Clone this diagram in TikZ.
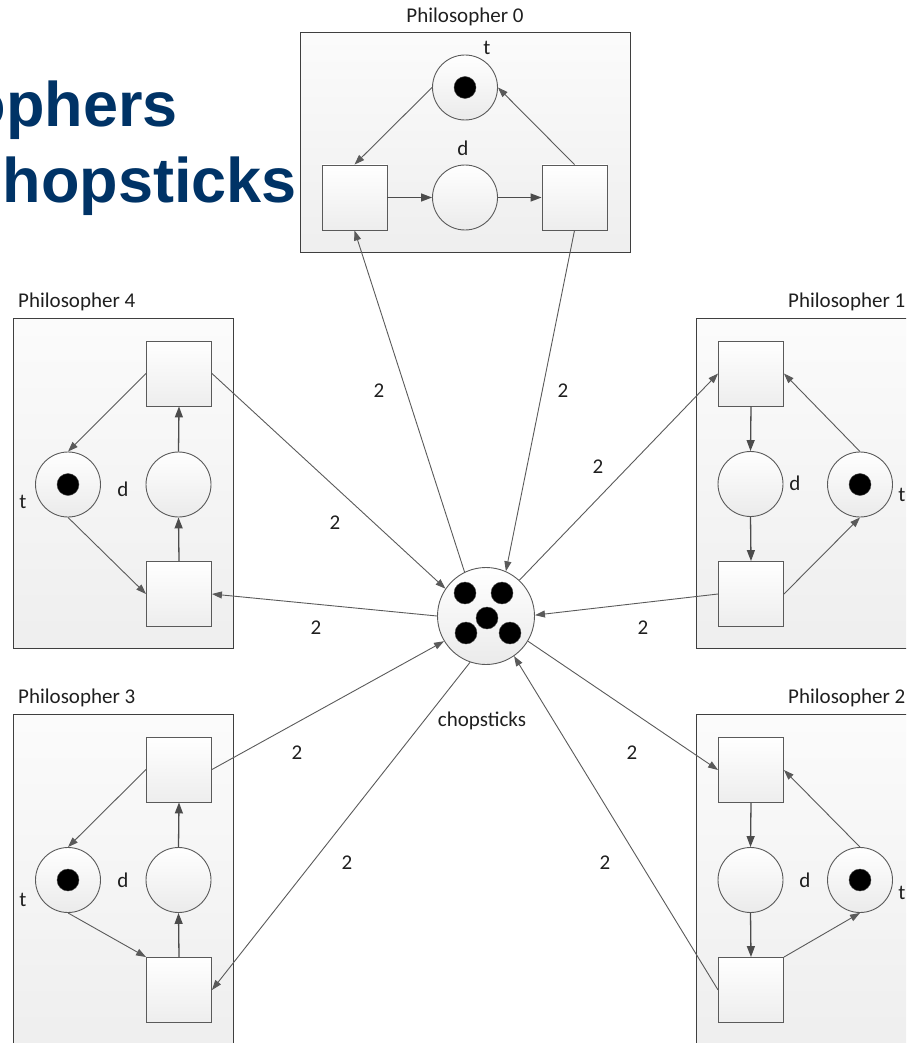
\documentclass[tikz,border=0pt]{standalone}
\usepackage{fontspec}
\newfontfamily\lab{Carlito}
\newfontfamily\ttl{Liberation Sans}
\usetikzlibrary{arrows.meta}
\definecolor{ln}{HTML}{5A5A5A}
\definecolor{bd}{HTML}{3F3F3F}
\definecolor{ttlc}{RGB}{0,51,102}
\begin{document}
\begin{tikzpicture}[x=1pt,y=-1pt,
  lbl/.style={font=\lab\fontsize{21}{25}\selectfont, inner sep=0pt, text=black!88},
  place/.style={circle, draw=ln, line width=0.9pt, minimum size=65pt, inner sep=0pt, top color=white, bottom color=gray!16},
  trans/.style={rectangle, draw=ln, line width=0.9pt, minimum size=65pt, inner sep=0pt, top color=white, bottom color=gray!14},
  pbox/.style={rectangle, draw=bd, line width=1pt, inner sep=0pt, top color=gray!3, bottom color=gray!13},
  arc/.style={draw=ln, line width=0.9pt, -{Triangle[length=10pt,width=7pt]}},
  sarc/.style={draw=black!70, line width=1.3pt, -{Triangle[length=11pt,width=8pt]}},
  tok/.style={circle, fill=black, draw=black!70, minimum size=22pt, inner sep=0pt},
  ttlstyle/.style={font=\ttl\bfseries\fontsize{63}{70}\selectfont, text=ttlc, inner sep=0pt, anchor=base east},
]
\useasboundingbox (0,0) rectangle (906,1043);
\clip (0,0) rectangle (906,1043);

% title fragments
\node[ttlstyle] (ttlA) at (178,127) {ophers};
\node[ttlstyle] (ttlB) at (297,202) {hopsticks};

% boxes
\node[pbox, minimum width=330pt, minimum height=219pt] (b0) at (465,142.5) {};
\node[pbox, minimum width=220pt, minimum height=330pt] (b4) at (123,483) {};
\node[pbox, minimum width=220pt, minimum height=330pt] (b1) at (806,483) {};
\node[pbox, minimum width=220pt, minimum height=330pt] (b3) at (123,879) {};
\node[pbox, minimum width=220pt, minimum height=330pt] (b2) at (806,879) {};

% box titles
\node[lbl] (n0) at (465,17) {Philosopher 0};
\node[lbl, anchor=west] (n4) at (18,302) {Philosopher 4};
\node[lbl, anchor=west] (n1) at (788,302) {Philosopher 1};
\node[lbl, anchor=west] (n3) at (18,698) {Philosopher 3};
\node[lbl, anchor=west] (n2) at (788,698) {Philosopher 2};

% Philosopher 0
\node[place] (t0) at (465,87.5) {};
\node[tok] (k0) at (465,87.5) {};
\node[place] (d0) at (465,197.5) {};
\node[trans] (a0) at (354.5,197.5) {};
\node[trans] (e0) at (574.5,197.5) {};
\node[lbl] (lt0) at (487,48) {t};
\node[lbl] (ld0) at (463,148) {d};
\draw[arc] (t0.west) -- (a0.north);
\draw[sarc] (a0.east) -- (d0.west);
\draw[sarc] (d0.east) -- (e0.west);
\draw[arc] (e0.north) -- (t0.east);

% Philosopher 4
\node[place] (t4) at (68,484.5) {};
\node[tok] (k4) at (68,484.5) {};
\node[place] (d4) at (178.5,484.5) {};
\node[trans] (e4) at (179,373.5) {};
\node[trans] (a4) at (179,594) {};
\node[lbl] (lt4) at (23,502) {t};
\node[lbl] (ld4) at (123,489) {d};
\draw[arc] (e4.west) -- (t4.north);
\draw[arc] (t4.south) -- (a4.west);
\draw[sarc] (a4.north) -- (d4.south);
\draw[sarc] (d4.north) -- (e4.south);

% Philosopher 3
\node[place] (t3) at (68,880) {};
\node[tok] (k3) at (68,880) {};
\node[place] (d3) at (178.5,880) {};
\node[trans] (e3) at (179,769.5) {};
\node[trans] (a3) at (179,990) {};
\node[lbl] (lt3) at (23,900) {t};
\node[lbl] (ld3) at (123,880) {d};
\draw[arc] (e3.west) -- (t3.north);
\draw[arc] (t3.south) -- (a3.north west);
\draw[sarc] (a3.north) -- (d3.south);
\draw[sarc] (d3.north) -- (e3.south);

% Philosopher 1
\node[place] (d1) at (750.5,484) {};
\node[place] (t1) at (860,484.5) {};
\node[tok] (k1) at (860,484.5) {};
\node[trans] (a1) at (751,373.5) {};
\node[trans] (e1) at (751,594) {};
\node[lbl] (ld1) at (795,483) {d};
\node[lbl] (lt1) at (902,495) {t};
\draw[sarc] (a1.south) -- (d1.north);
\draw[sarc] (d1.south) -- (e1.north);
\draw[arc] (e1.east) -- (t1.south);
\draw[arc] (t1.north) -- (a1.east);

% Philosopher 2
\node[place] (d2) at (750.5,880) {};
\node[place] (t2) at (860,880) {};
\node[tok] (k2) at (860,880) {};
\node[trans] (a2) at (751,770) {};
\node[trans] (e2) at (751,990) {};
\node[lbl] (ld2) at (805,880) {d};
\node[lbl] (lt2) at (902,893) {t};
\draw[sarc] (a2.south) -- (d2.north);
\draw[sarc] (d2.south) -- (e2.north);
\draw[arc] (e2.north east) -- (t2.south);
\draw[arc] (t2.north) -- (a2.east);

% chopsticks
\node[place, minimum size=97pt] (ch) at (486,616) {};
\node[tok] (c1) at (465,593) {};
\node[tok] (c2) at (502,593) {};
\node[tok] (c3) at (487,618) {};
\node[tok] (c4) at (466,633) {};
\node[tok] (c5) at (510,633) {};
\node[lbl] (lch) at (482,721) {chopsticks};

% chopstick arcs
\draw[arc] (ch.116) -- (a0.south);
\draw[arc] (e0.south) -- (ch.66);
\draw[arc] (ch.47) -- (a1.west);
\draw[arc] (e1.west) -- (ch.1);
\draw[arc] (ch.-31) -- (a2.west);
\draw[arc] (e2.west) -- (ch.-55);
\draw[arc] (ch.-109) -- (a3.east);
\draw[arc] (e3.east) -- (ch.211);
\draw[arc] (e4.east) -- (ch.146);
\draw[arc] (ch.180) -- (a4.east);

% weights
\node[lbl] (w1) at (379,391) {2};
\node[lbl] (w2) at (563,391) {2};
\node[lbl] (w3) at (598,467) {2};
\node[lbl] (w4) at (643,628) {2};
\node[lbl] (w5) at (632,753) {2};
\node[lbl] (w6) at (605,863) {2};
\node[lbl] (w7) at (347,863) {2};
\node[lbl] (w8) at (297,753) {2};
\node[lbl] (w9) at (335,523) {2};
\node[lbl] (w10) at (316,628) {2};
\end{tikzpicture}
\end{document}
